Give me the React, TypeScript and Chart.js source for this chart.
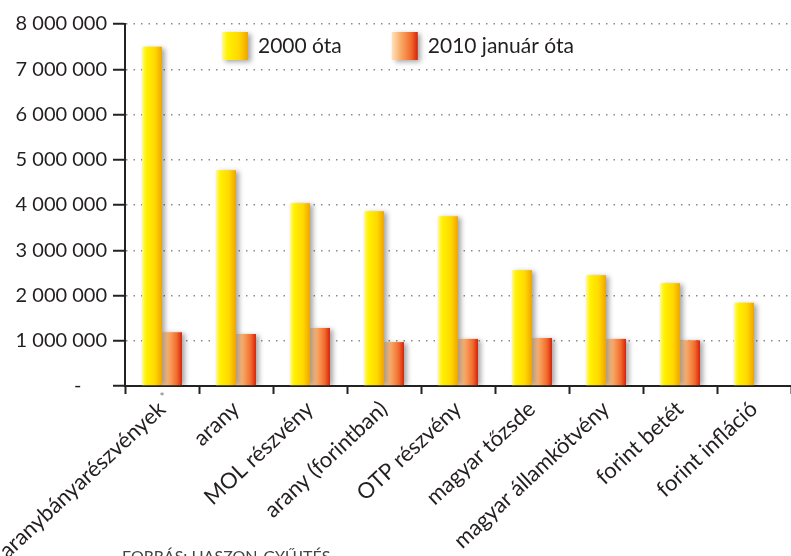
import { useEffect, useRef } from 'react';
import { Chart, registerables } from 'chart.js';

Chart.register(...registerables);

const categories = [
  'aranybányarészvények',
  'arany',
  'MOL részvény',
  'arany (forintban)',
  'OTP részvény',
  'magyar tőzsde',
  'magyar államkötvény',
  'forint betét',
  'forint infláció',
];
const since2000 = [7500000, 4770000, 4040000, 3860000, 3750000, 2560000, 2450000, 2270000, 1840000];
const sinceJan2010 = [1190000, 1150000, 1280000, 970000, 1040000, 1060000, 1040000, 1010000, null];
const seriesNames = ['2000 óta', '2010 január óta'];
const yMin = 0;
const yMax = 8000000;
const yStep = 1000000;
const footnoteMark = '*';
const sourceNote = 'FORRÁS: HASZON-GYŰJTÉS';

const FONT = 'Lato, "Open Sans", sans-serif';
const CAT_PCT = 0.54;
const TEXT = '#231f20';

function makeGrad(ctx: CanvasRenderingContext2D, kind: number, x0: number, x1: number) {
  const g = ctx.createLinearGradient(x0, 0, x1, 0);
  if (kind === 0) {
    g.addColorStop(0, '#fff7a0');
    g.addColorStop(0.2, '#fff200');
    g.addColorStop(0.65, '#ffd800');
    g.addColorStop(1, '#f0a400');
  } else {
    g.addColorStop(0, '#fde3c0');
    g.addColorStop(0.35, '#f9a966');
    g.addColorStop(0.75, '#f06a2a');
    g.addColorStop(1, '#d8200c');
  }
  return g;
}

function barFill(kind: number) {
  return (c: any) => {
    const chart = c.chart;
    const xs = chart.scales ? chart.scales.x : null;
    if (!chart.chartArea || !xs || c.dataIndex == null) return kind === 0 ? '#ffe000' : '#f07030';
    const center = xs.getPixelForValue(c.dataIndex);
    const catW = xs.width / categories.length;
    const bw = (catW * CAT_PCT) / 2;
    const x0 = kind === 0 ? center - bw : center;
    return makeGrad(chart.ctx, kind, x0, x0 + bw);
  };
}

const fmt = (v: number) => (v === 0 ? '-     ' : String(v).replace(/\B(?=(\d{3})+(?!\d))/g, ' '));

const shadowPlugin = {
  id: 'barShadow',
  beforeDatasetsDraw(chart: any) {
    const ctx = chart.ctx;
    ctx.save();
    ctx.shadowColor = 'rgba(0,0,0,0.35)';
    ctx.shadowBlur = 5;
    ctx.shadowOffsetX = 3;
    ctx.shadowOffsetY = 1;
  },
  afterDatasetsDraw(chart: any) {
    chart.ctx.restore();
  },
};

const decorPlugin = {
  id: 'decor',
  afterDraw(chart: any) {
    const ctx = chart.ctx as CanvasRenderingContext2D;
    const area = chart.chartArea;
    ctx.save();
    // legend
    ctx.font = `21px ${FONT}`;
    ctx.textBaseline = 'middle';
    ctx.textAlign = 'left';
    let x = area.left + 97;
    const boxY = area.top + 8;
    const boxW = 26;
    const boxH = 28;
    chart.data.datasets.forEach((ds: any, i: number) => {
      ctx.save();
      ctx.shadowColor = 'rgba(0,0,0,0.35)';
      ctx.shadowBlur = 5;
      ctx.shadowOffsetX = 3;
      ctx.shadowOffsetY = 2;
      ctx.fillStyle = makeGrad(ctx, i, x, x + boxW);
      ctx.fillRect(x, boxY, boxW, boxH);
      ctx.restore();
      ctx.fillStyle = TEXT;
      const tx = x + boxW + 10;
      ctx.fillText(ds.label, tx, boxY + boxH / 2);
      x = tx + ctx.measureText(ds.label).width + 50;
    });
    // footnote mark under first category
    const xs = chart.scales.x;
    ctx.fillStyle = '#777';
    ctx.font = `12px ${FONT}`;
    ctx.textAlign = 'center';
    ctx.textBaseline = 'top';
    ctx.fillText(footnoteMark, xs.getPixelForValue(0), area.bottom + 5);
    // source note (cut by page bottom)
    ctx.fillStyle = '#444';
    ctx.font = `16px ${FONT}`;
    ctx.textAlign = 'left';
    ctx.textBaseline = 'top';
    ctx.fillText(sourceNote, 122, chart.height - 7);
    ctx.restore();
  },
};

export default function App() {
  const ref = useRef<HTMLCanvasElement | null>(null);
  useEffect(() => {
    if (!ref.current) return;
    const chart = new Chart(ref.current, {
      type: 'bar',
      data: {
        labels: categories,
        datasets: [
          {
            label: seriesNames[0],
            data: since2000,
            backgroundColor: barFill(0),
            borderWidth: 0,
            categoryPercentage: CAT_PCT,
            barPercentage: 1,
          },
          {
            label: seriesNames[1],
            data: sinceJan2010 as any,
            backgroundColor: barFill(1),
            borderWidth: 0,
            categoryPercentage: CAT_PCT,
            barPercentage: 1,
          },
        ],
      },
      options: {
        animation: false,
        responsive: true,
        maintainAspectRatio: false,
        layout: { padding: { top: 24, right: 0, left: 0, bottom: 0 } },
        plugins: {
          legend: { display: false },
          tooltip: { enabled: false },
        },
        scales: {
          x: {
            offset: true,
            grid: {
              offset: true,
              drawOnChartArea: false,
              drawTicks: true,
              tickLength: 8,
              tickColor: '#222',
              tickWidth: 2,
            },
            border: { color: '#222', width: 2 },
            ticks: {
              autoSkip: false,
              minRotation: 43,
              maxRotation: 43,
              padding: 2,
              color: TEXT,
              font: { family: FONT, size: 22 },
            },
            afterFit: (s: any) => {
              s.height = 170;
              s.paddingLeft = 0;
              s.paddingRight = 0;
            },
          },
          y: {
            min: yMin,
            max: yMax,
            grid: {
              color: '#8a8a8a',
              lineWidth: 1.5,
              tickLength: 12,
              tickColor: '#222',
              tickWidth: 2,
            },
            border: { color: '#222', width: 2, dash: [1.5, 6] },
            ticks: {
              stepSize: yStep,
              padding: 6,
              color: TEXT,
              font: { family: FONT, size: 20 },
              callback: (v: any) => fmt(Number(v)),
            },
            afterFit: (s: any) => {
              s.width = 125;
              s.paddingTop = 0;
              s.paddingBottom = 0;
            },
          },
        },
      },
      plugins: [shadowPlugin, decorPlugin],
    });
    return () => chart.destroy();
  }, []);
  return (
    <div style={{ position: 'fixed', left: 0, top: 0, width: 791, height: 556, background: '#fff' }}>
      <canvas ref={ref} />
    </div>
  );
}
